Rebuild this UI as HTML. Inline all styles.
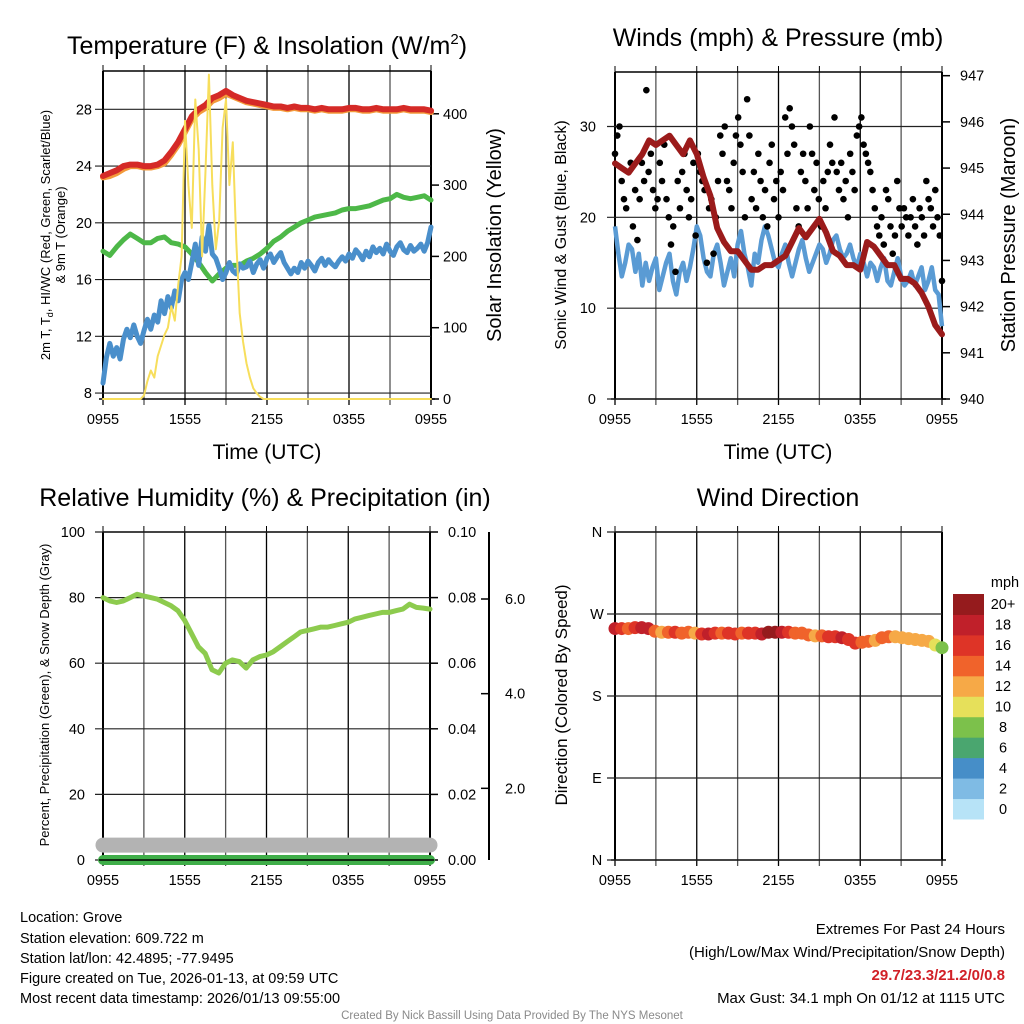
<!DOCTYPE html>
<html><head><meta charset="utf-8">
<style>
html,body{margin:0;padding:0;background:#fff;}
svg{display:block;font-family:"Liberation Sans",Arial,sans-serif;}
</style></head>
<body>
<svg id="chart" width="1024" height="1024" viewBox="0 0 1024 1024" xmlns="http://www.w3.org/2000/svg">
<rect width="1024" height="1024" fill="#fff"/>
<!-- Titles -->
<text x="267" y="54" font-size="25" text-anchor="middle">Temperature (F) &amp; Insolation (W/m<tspan dy="-10" font-size="15">2</tspan><tspan dy="10">)</tspan></text>
<text x="778" y="46" font-size="25" text-anchor="middle">Winds (mph) &amp; Pressure (mb)</text>
<text x="265" y="506" font-size="25" text-anchor="middle">Relative Humidity (%) &amp; Precipitation (in)</text>
<text x="778" y="506" font-size="25" text-anchor="middle">Wind Direction</text>
<!-- axis titles -->
<text x="267" y="459" font-size="21" text-anchor="middle">Time (UTC)</text>
<text x="778" y="459" font-size="21" text-anchor="middle">Time (UTC)</text>
<text transform="translate(50,235) rotate(-90)" font-size="13" text-anchor="middle">2m T, T<tspan font-size="9" dy="3">d</tspan><tspan dy="-3">, HI/WC (Red, Green, Scarlet/Blue)</tspan></text>
<text transform="translate(65,235) rotate(-90)" font-size="13" text-anchor="middle">&amp; 9m T (Orange)</text>
<text transform="translate(501,235) rotate(-90)" font-size="20" text-anchor="middle">Solar Insolation (Yellow)</text>
<text transform="translate(566,235) rotate(-90)" font-size="16" text-anchor="middle">Sonic Wind &amp; Gust (Blue, Black)</text>
<text transform="translate(1015,235) rotate(-90)" font-size="20" text-anchor="middle">Station Pressure (Maroon)</text>
<text transform="translate(49,695) rotate(-90)" font-size="13" text-anchor="middle">Percent, Precipitation (Green), &amp; Snow Depth (Gray)</text>
<text transform="translate(567,695) rotate(-90)" font-size="17" text-anchor="middle">Direction (Colored By Speed)</text>
<g id="plots"></g>
<!-- footer -->
<g font-size="14.5">
<text x="20" y="922">Location: Grove</text>
<text x="20" y="943">Station elevation: 609.722 m</text>
<text x="20" y="963">Station lat/lon: 42.4895; -77.9495</text>
<text x="20" y="983">Figure created on Tue, 2026-01-13, at 09:59 UTC</text>
<text x="20" y="1003">Most recent data timestamp: 2026/01/13 09:55:00</text>
</g>
<g font-size="15" text-anchor="end">
<text x="1005" y="934">Extremes For Past 24 Hours</text>
<text x="1005" y="957">(High/Low/Max Wind/Precipitation/Snow Depth)</text>
<text x="1005" y="980" fill="#d12027" font-weight="bold">29.7/23.3/21.2/0/0.8</text>
<text x="1005" y="1003">Max Gust: 34.1 mph On 01/12 at 1115 UTC</text>
</g>
<text x="512" y="1019" font-size="11.5" fill="#8a8a8a" text-anchor="middle">Created By Nick Bassill Using Data Provided By The NYS Mesonet</text>
</svg>
<script>
// ---- data ----
const timeTicks = ["0955","1555","2155","0355","0955"];
const tempRed = [23.3,23.5,23.7,24.0,24.1,24.1,24.0,24.0,24.1,24.4,25.0,25.7,26.6,27.5,28.0,28.3,28.8,29.0,29.3,29.0,28.8,28.6,28.5,28.4,28.3,28.2,28.2,28.1,28.2,28.1,28.1,28.0,28.1,28.0,28.0,28.0,28.1,28.1,28.0,28.0,28.1,28.0,28.0,28.0,28.1,28.0,28.0,28.0,27.9];
const tempOrange = [23.2,23.3,23.5,23.8,24.0,24.0,23.9,23.9,24.0,24.2,24.8,25.5,26.4,27.3,27.8,28.1,28.6,28.8,29.1,28.9,28.7,28.5,28.4,28.3,28.2,28.1,28.1,28.0,28.1,28.0,28.0,27.9,28.0,27.9,27.9,27.9,28.0,28.0,27.9,27.9,28.0,27.9,27.9,27.9,28.0,27.9,27.9,27.9,27.8];
const dewGreen = [18.0,17.7,18.3,18.8,19.2,18.9,18.6,18.6,18.9,19.0,18.6,18.5,18.3,17.8,17.2,16.5,15.9,16.4,16.8,17.0,17.0,17.3,17.5,17.8,18.2,18.7,19.0,19.4,19.7,20.0,20.2,20.4,20.5,20.6,20.7,20.9,21.0,21.0,21.1,21.2,21.4,21.6,21.7,22.0,21.8,21.7,21.8,21.9,21.6];
const chillBlue = [8.7,10.5,11.5,10.6,11.2,10.4,11.8,12.5,11.9,12.8,12.0,11.5,12.4,13.2,12.5,13.5,13.0,14.5,13.6,14.8,14.0,15.2,14.5,16.0,16.5,16.0,17.2,18.5,17.0,19.0,18.0,19.8,17.8,17.5,16.8,16.0,16.5,17.2,16.6,16.4,17.1,16.8,16.9,17.3,16.5,17.1,17.4,16.8,17.5,17.8,17.2,17.6,17.9,17.2,16.8,16.4,16.8,16.5,17.2,16.8,17.3,17.0,16.6,17.2,17.5,17.0,17.4,17.1,16.9,17.3,17.6,17.3,17.8,17.5,18.1,17.8,17.4,18.0,17.6,18.3,17.9,18.2,17.8,18.5,18.0,17.7,18.3,18.6,18.1,17.9,18.4,18.0,18.2,18.5,18.0,18.6,19.7];
const insolation = [0,0,0,0,0,0,0,0,0,0,0,0,5,25,40,30,60,75,90,100,130,110,160,200,390,300,240,420,350,200,320,455,300,210,250,380,420,300,360,220,120,80,50,30,15,8,3,0,0,0,0,0,0,0,0,0,0,0,0,0,0,0,0,0,0,0,0,0,0,0,0,0,0,0,0,0,0,0,0,0,0,0,0,0,0,0,0,0,0,0,0,0,0,0,0,0,0];
const sonicWind = [19,16,13.5,15,17,16.5,14,16,12.5,15,13,14.5,15.5,12,13.5,15,16,13,11.5,14,15,13,14.5,16.5,19,18,15.5,14,13.5,16,17,15,12.5,14,15.5,13.5,17,18.5,16,14.5,12.5,16,15,17.5,19,18,16.5,15,14.5,16,17,15,13.5,15,16.5,17.5,15.5,14,15,16,17,16.5,15,16,17.5,18,16.5,15.5,16,17,15.5,14.5,16,15,13.5,15,14.5,13,14.5,15.5,13,12.5,14,15.5,13.5,12.5,13,14,12.5,13.5,14.5,12,13,14.5,12,11.5,8];
const gusts = [27,29,30,24,22,21,25,26,19,23,17.5,22,26,24,34,25,27,23,21,22,26,24,28,22,20,17,19,14,24,21,25,27,23,20,22,26,18,27,25,24,23,15,21,22,16,20,24,29,27,30,24,23,21,26,29,31,28,25,20,33,29,22,25,21,27,24,20,23,19,26,28,22,24,20,25,23,31,27,32,30,28,21,19,25,27,24,21,30,27,23,26,22,19,24,21,25,28,26,31,25,23,26,22,24,20,27,25,23,29,30,31,28,27,26,25,23,21,19,18,20,17,23,22,19,16,18,24,21,19,21,20,18,20,22,19,17,21,20,18,24,22,21,19,23,20,18,13];
const pressure = [945.1,945.0,944.9,945.1,945.3,945.6,945.5,945.6,945.7,945.5,945.3,945.6,945.3,944.8,944.4,943.7,943.4,943.2,943.2,943.0,942.8,942.8,942.9,942.9,943.0,943.1,943.4,943.7,943.5,943.7,943.9,943.6,943.2,943.1,942.9,942.9,942.8,943.4,943.3,943.1,942.9,942.9,942.6,942.6,942.5,942.3,942.0,941.6,941.4];
const humidity = [80,79,78.5,79,80,81,80.5,80,79.5,78.5,77.5,76,73,69,65,63,58,57,60,61,60.5,58.5,61,62,62.5,63.5,65,66.5,68,69.5,70,70.5,71,71,71.5,72,72.5,73.5,74,74.5,75,75.5,75.5,76,76.5,78,77,76.8,76.5];
const precip = [0,0,0,0,0,0,0,0,0,0,0,0,0,0,0,0,0,0,0,0,0,0,0,0,0];
const snowDepth = [0.8,0.8,0.8,0.8,0.8,0.8,0.8,0.8,0.8,0.8,0.8,0.8,0.8,0.8,0.8,0.8,0.8,0.8,0.8,0.8,0.8,0.8,0.8,0.8,0.8];
const windDir = [254,254,254,255,255,254,251,250,250,250,249,250,249,248,248,249,249,249,248,249,249,249,248,250,250,250,250,249,249,247,246,246,245,245,244,242,238,239,240,241,244,245,245,244,243,242,241,240,236,233];
const windSpeed = [18,17,15,17,18,18,14,13,15,16,15,14,13,16,18,17,15,16,17,15,17,16,18,20,21,18,17,15,14,14,13,14,16,17,18,17,16,14,15,13,14,14,13,12,12,12,13,12,11,9];
const tempTicks = [8,12,16,20,24,28];
const insolTicks = [0,100,200,300,400];
const windTicks = [0,10,20,30];
const pressTicks = [940,941,942,943,944,945,946,947];
const rhTicks = [0,20,40,60,80,100];
const precipTicks = ["0.00","0.02","0.04","0.06","0.08","0.10"];
const snowTicks = [2,4,6];
const dirTicks = ["N","E","S","W","N"];
const speedLabels = ["0","2","4","6","8","10","12","14","16","18","20+"];
const speedColors = ["#b7e3f7","#7fbbe4","#468ec8","#4aa66f","#7cc14b","#e6e05a","#f6a947","#f0632b","#de3427","#c0202a","#951b1d"];

// ---- helpers ----
const NS="http://www.w3.org/2000/svg";
const root=document.getElementById('plots');
function mk(tag,attrs,parent){const e=document.createElementNS(NS,tag);for(const k in attrs)e.setAttribute(k,attrs[k]);(parent||root).appendChild(e);return e;}
function lin(d0,d1,r0,r1){return v=>r0+(v-d0)/(d1-d0)*(r1-r0);}
function idxX(x0,x1){return (i,n)=>x0+i/(n-1)*(x1-x0);}
function pathOf(arr,xf,yf){return arr.map((v,i)=>(i?'L':'M')+xf(i,arr.length).toFixed(1)+' '+yf(v).toFixed(1)).join(' ');}

function frame(x0,x1,y0,y1,nv,name){
  const g=mk('g',{});
  
  
  for(let k=0;k<=nv;k++){const x=x0+k*(x1-x0)/nv;
    mk('line',{x1:x,y1:y0,x2:x,y2:y1+6,stroke:(k%2?'#555':'#000'),'stroke-width':1.3},g);
    mk('line',{x1:x,y1:y0-6,x2:x,y2:y0,stroke:'#000','stroke-width':1},g);}
  mk('line',{x1:x0,y1:y0,x2:x0,y2:y1,stroke:'#000','stroke-width':2},g);
  mk('line',{x1:x1,y1:y0,x2:x1,y2:y1,stroke:'#000','stroke-width':2},g);
  mk('line',{x1:x0-4,y1:y1,x2:x1+4,y2:y1,stroke:'#000','stroke-width':1.5},g);
  mk('line',{x1:x0,y1:y0,x2:x1,y2:y0,stroke:'#000','stroke-width':1.5},g);
  timeTicks.forEach((t,k)=>{const x=x0+k*(x1-x0)/4;
    const tx=mk('text',{x:x,y:y1+25,'font-size':14.5,'text-anchor':'middle'},g);tx.textContent=t;
    
    });
}
function hgrid(vals,yf,x0,x1,labels,lx,anchor,name){
  vals.forEach((v,k)=>{const y=yf(v);
    const l=mk('line',{x1:x0-8,y1:y,x2:x1,y2:y,stroke:'#222','stroke-width':1.2});
    
    
    const t=mk('text',{x:lx,y:y+5,'font-size':14.5,'text-anchor':anchor});t.textContent=labels[k];
    
    });
}
function rticks(vals,yf,x,labels,lx,name){
  vals.forEach((v,k)=>{const y=yf(v);
    mk('line',{x1:x,y1:y,x2:x+8,y2:y,stroke:'#000','stroke-width':1.5});
    const t=mk('text',{x:lx,y:y+5,'font-size':14.5});t.textContent=labels[k];
    
    });
}

// ---- Panel 1: temperature ----
{
  const x0=103,x1=431,y0=71,y1=399;
  const yT=lin(7.58,30.7,y1,y0), yI=lin(0,460,y1,y0), X=idxX(x0,x1);
  frame(x0,x1,y0,y1,8,'temperature');
  hgrid(tempTicks,yT,x0,x1,tempTicks.map(String),92,'end','temperature');
  rticks(insolTicks,yI,x1,insolTicks.map(String),443,'insolation');
  const series=[[tempOrange,'#f39a3a',6,'orange-9m-temp-line'],[tempRed,'#d52a27',6,'red-2m-temp-line'],[dewGreen,'#4db848',5,'green-dewpoint-line'],[chillBlue,'#4a8fcb',5,'blue-windchill-line'],[insolation,'#f7de5c',2,'yellow-insolation-line']];
  series.forEach(s=>{const yf=s===series[4]?yI:yT;
    const p=mk('path',{d:pathOf(s[0],X,yf),fill:'none',stroke:s[1],'stroke-width':s[2],'stroke-linejoin':'round','stroke-linecap':'round'});
    
    });
}
// ---- Panel 2: winds ----
{
  const x0=615,x1=942,y0=72,y1=399;
  const yW=lin(0,36,y1,y0), yP=lin(940,947.08,y1,y0), X=idxX(x0,x1);
  frame(x0,x1,y0,y1,8,'winds');
  hgrid(windTicks,yW,x0,x1,windTicks.map(String),596,'end','wind');
  rticks(pressTicks,yP,x1,pressTicks.map(String),960,'pressure');
  const b=mk('path',{d:pathOf(sonicWind,X,yW),fill:'none',stroke:'#5a9bd4','stroke-width':4.5,'stroke-linejoin':'round'});
  
  
  gusts.forEach((g,i)=>{const c=mk('circle',{cx:X(i,gusts.length),cy:yW(g),r:3.3,fill:'#000'});
    
    });
  const p=mk('path',{d:pathOf(pressure,X,yP),fill:'none',stroke:'#9b1b1b','stroke-width':6,'stroke-linejoin':'round','stroke-linecap':'round'});
  
  
}
// ---- Panel 3: humidity ----
{
  const x0=103,x1=430,y0=532,y1=860;
  const yR=lin(0,100,y1,y0), yS=lin(0,6,883,599), X=idxX(x0,x1);
  frame(x0,x1,y0,y1,8,'humidity');
  hgrid(rhTicks,yR,x0,x1,rhTicks.map(String),85,'end','humidity');
  rticks(rhTicks,yR,x1,precipTicks,448,'precip');
  mk('line',{x1:489,y1:y0,x2:489,y2:y1,stroke:'#000','stroke-width':2});
  rticks(snowTicks,yS,481,snowTicks.map(v=>v.toFixed(1)),505,'snow');
  const s=mk('path',{d:pathOf(snowDepth,X,yS),fill:'none',stroke:'#b3b3b3','stroke-width':15,'stroke-linecap':'round'});
  
  
  const pr=mk('path',{d:pathOf(precip,X,v=>yR(v*1000)),fill:'none',stroke:'#3fae49','stroke-width':10,'stroke-linecap':'round'});
  
  
  mk('line',{x1:x0-4,y1:y1,x2:x1+4,y2:y1,stroke:'#000','stroke-width':1.5});
  const h=mk('path',{d:pathOf(humidity,X,yR),fill:'none',stroke:'#8dcb4e','stroke-width':5,'stroke-linejoin':'round','stroke-linecap':'round'});
  
  
}
// ---- Panel 4: wind direction ----
{
  const x0=615,x1=942,y0=532,y1=860;
  const yD=lin(0,360,y1,y0), X=idxX(x0,x1);
  frame(x0,x1,y0,y1,8,'direction');
  hgrid([0,90,180,270,360],yD,x0,x1,dirTicks,597,'middle','direction');
  windDir.forEach((d,i)=>{const bin=Math.min(10,Math.floor(windSpeed[i]/2));
    const c=mk('circle',{cx:X(i,windDir.length),cy:yD(d),r:6.5,fill:speedColors[bin]});
    
    });
  const bh=(819-594)/11;
  speedLabels.forEach((lab,k)=>{const y=819-(k+1)*bh;
    const r=mk('rect',{x:953,y:y,width:31,height:bh+0.5,fill:speedColors[k]});
    
    
    const t=mk('text',{x:1003,y:y+bh/2+5,'font-size':14.5,'text-anchor':'middle'});t.textContent=lab;
    
    });
  const u=mk('text',{x:1005,y:587,'font-size':14.5,'text-anchor':'middle'});u.textContent='mph';
  
  
}
</script>
</body></html>
